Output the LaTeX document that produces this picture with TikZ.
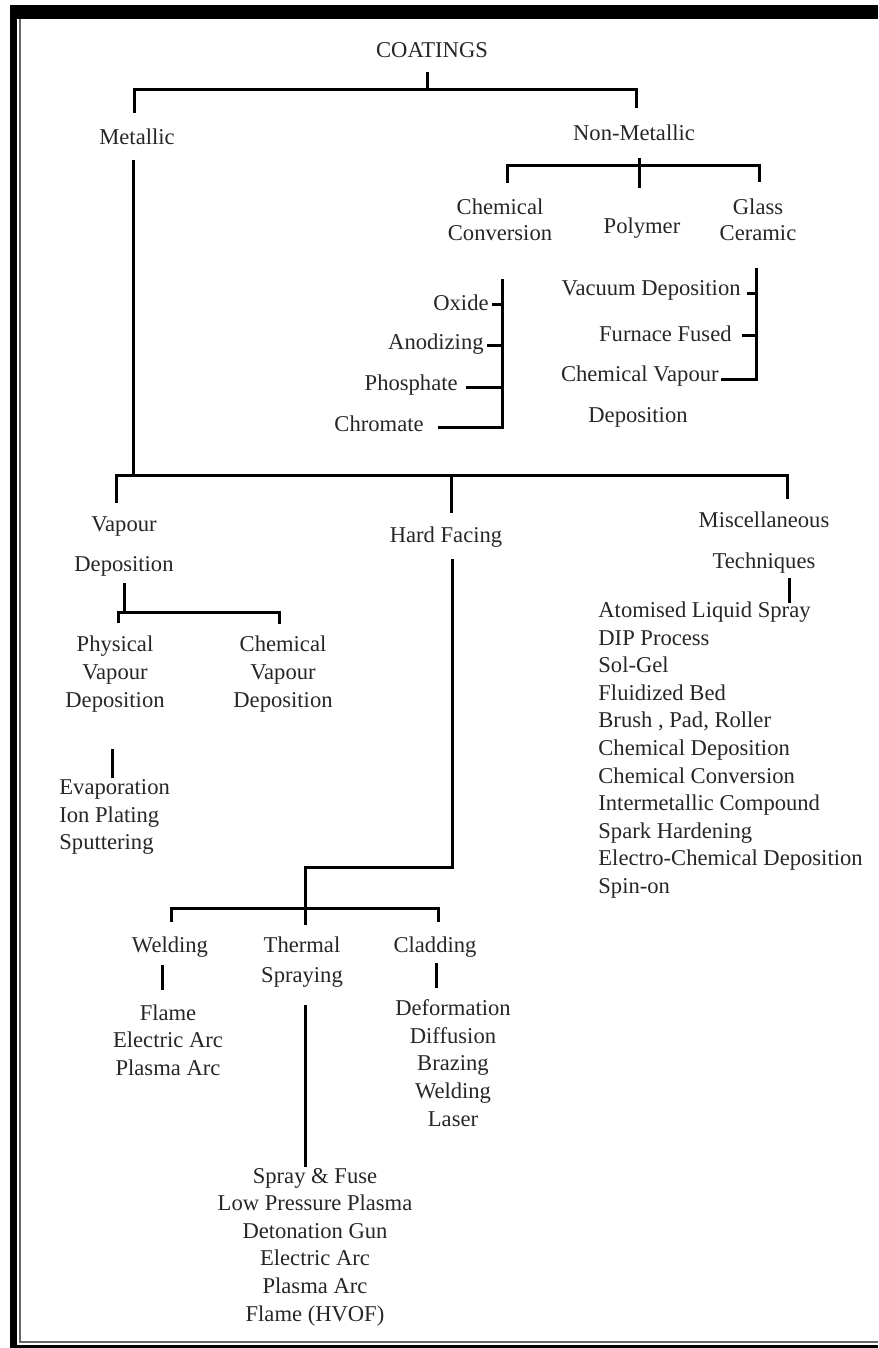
\documentclass[tikz,border=0pt]{standalone}
\usepackage{fontspec}
\setmainfont{Liberation Serif}
\begin{document}
\begin{tikzpicture}[x=0.5pt,y=-0.5pt]
\tikzset{
  lbl/.style={inner sep=0pt, font=\fontsize{11.3}{13.8}\selectfont, text=black!85},
  lst/.style={lbl, align=center},
  lstl/.style={lbl, align=left},
  ln/.style={line width=1.5pt, black},
  framefill/.style={fill=black, draw=none},
  frameline/.style={draw=black!60, line width=0.8pt},
}
\useasboundingbox (0,0) rectangle (878,1348);
% frame
\fill[framefill] (10,5) rectangle (878,19);
\fill[framefill] (10,5) rectangle (17,1348);
\fill[framefill] (10,1345) rectangle (878,1348);
\draw[frameline] (20,19) -- (20,1342) -- (878,1342);

% nodes
\node[lbl] (coat) at (432,50) {COATINGS};
\node[lbl] (met) at (137,137) {Metallic};
\node[lbl] (nonmet) at (634,133) {Non-Metallic};
\node[lst] (chemconv) at (500,220) {Chemical\\[-0.8pt]Conversion};
\node[lbl] (poly) at (642,228) {Polymer};
\node[lst] (glass) at (758,220) {Glass\\[-0.8pt]Ceramic};
\node[lbl,anchor=east] (oxide) at (489,303) {Oxide};
\node[lbl,anchor=east] (anod) at (484,344) {Anodizing};
\node[lbl,anchor=east] (phos) at (458,385) {Phosphate};
\node[lbl,anchor=east] (chrom) at (424,424) {Chromate};
\node[lbl,anchor=east] (vac) at (741,290) {Vacuum Deposition};
\node[lbl,anchor=east] (furn) at (732,334) {Furnace Fused};
\node[lbl,anchor=east] (cvap) at (719,376) {Chemical Vapour};
\node[lbl] (cvdep) at (638,417) {Deposition};
\node[lst] (vapdep) at (124,547) {Vapour\\[6.2pt]Deposition};
\node[lbl] (hard) at (446,537) {Hard Facing};
\node[lst] (misc) at (764,543) {Miscellaneous\\[6.7pt]Techniques};
\node[lst] (pvd) at (115,674) {Physical\\Vapour\\Deposition};
\node[lst] (cvd) at (283,674) {Chemical\\Vapour\\Deposition};
\node[lstl,anchor=west] (pvdl) at (59,817) {Evaporation\\Ion Plating\\Sputtering};
\node[lstl,anchor=west] (miscl) at (598,750) {Atomised Liquid Spray\\DIP Process\\Sol-Gel\\Fluidized Bed\\Brush , Pad, Roller\\Chemical Deposition\\Chemical Conversion\\Intermetallic Compound\\Spark Hardening\\Electro-Chemical Deposition\\Spin-on};
\node[lbl] (weld) at (170,947) {Welding};
\node[lst] (therm) at (302,962) {Thermal\\[1.2pt]Spraying};
\node[lbl] (clad) at (435,947) {Cladding};
\node[lst] (weldl) at (168,1040) {Flame\\Electric Arc\\Plasma Arc};
\node[lst] (cladl) at (453,1063) {Deformation\\Diffusion\\Brazing\\Welding\\Laser};
\node[lst] (therml) at (315,1247) {Spray \& Fuse\\Low Pressure Plasma\\Detonation Gun\\Electric Arc\\Plasma Arc\\Flame (HVOF)};

% junction coordinates
\coordinate (cS) at (427,72);
\coordinate (cJ) at (427,90);
\coordinate (mT) at (134,113);
\coordinate (nT) at (636,108);
\coordinate (mS) at (133,160);
\coordinate (mJ) at (133,475);
\coordinate (vdT) at (116,503);
\coordinate (hfJ) at (451,475);
\coordinate (hfT) at (451,513);
\coordinate (miT) at (787,499);
\coordinate (nS) at (639,158);
\coordinate (nJ) at (639,166);
\coordinate (nB) at (639,188);
\coordinate (ccT) at (507,183);
\coordinate (gcT) at (759,182);
\coordinate (ccA) at (502,279);
\coordinate (ccB) at (502,427);
\coordinate (oxT) at (492,304);
\coordinate (anT) at (487,345);
\coordinate (phT) at (466,387);
\coordinate (chT) at (438,427);
\coordinate (gcA) at (756,268);
\coordinate (gcB) at (756,379);
\coordinate (vaT) at (747,293);
\coordinate (fuT) at (742,335);
\coordinate (cvT2) at (721,379);
\coordinate (vdS) at (124,583);
\coordinate (vdJ) at (124,612);
\coordinate (pvT) at (118,623);
\coordinate (cvT) at (279,624);
\coordinate (pvS) at (112,749);
\coordinate (pvE) at (112,778);
\coordinate (hfS) at (452,559);
\coordinate (hfK) at (452,867);
\coordinate (tsT) at (305,925);
\coordinate (tsJ) at (305,908);
\coordinate (weT) at (171,922);
\coordinate (clT) at (438,922);
\coordinate (miS) at (789,578);
\coordinate (miE) at (789,603);
\coordinate (weS) at (162,965);
\coordinate (weE) at (162,990);
\coordinate (clS) at (436,963);
\coordinate (clE) at (436,988);
\coordinate (tsS) at (305,1005);
\coordinate (tsE) at (305,1167);

% connectors
\draw[ln] (cS) -- (cJ);
\draw[ln] (mT) |- (cJ) -| (nT);
\draw[ln] (mS) -- (mJ);
\draw[ln] (vdT) |- (mJ) -| (miT);
\draw[ln] (hfJ) -- (hfT);
\draw[ln] (nS) -- (nB);
\draw[ln] (ccT) |- (nJ) -| (gcT);
\draw[ln] (ccA) -- (ccB) -- (chT);
\draw[ln] (oxT) -- (oxT -| ccA);
\draw[ln] (anT) -- (anT -| ccA);
\draw[ln] (phT) -- (phT -| ccA);
\draw[ln] (gcA) -- (gcB) -- (cvT2);
\draw[ln] (vaT) -- (vaT -| gcA);
\draw[ln] (fuT) -- (fuT -| gcA);
\draw[ln] (vdS) -- (vdJ);
\draw[ln] (pvT) |- (vdJ) -| (cvT);
\draw[ln] (pvS) -- (pvE);
\draw[ln] (hfS) -- (hfK) -| (tsT);
\draw[ln] (weT) |- (tsJ) -| (clT);
\draw[ln] (miS) -- (miE);
\draw[ln] (weS) -- (weE);
\draw[ln] (clS) -- (clE);
\draw[ln] (tsS) -- (tsE);
\end{tikzpicture}
\end{document}
